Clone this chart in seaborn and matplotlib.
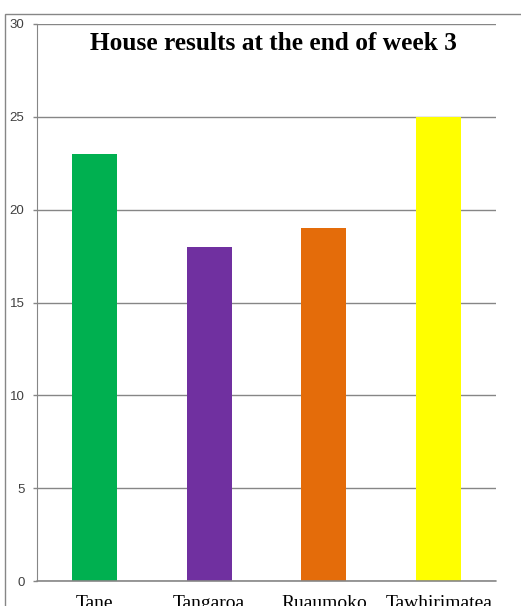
import matplotlib
matplotlib.use("Agg")
import matplotlib.pyplot as plt
import seaborn as sns
import pandas as pd
from matplotlib.patches import Rectangle

# chart data
houses = ["Tane", "Tangaroa", "Ruaumoko", "Tawhirimatea"]
points = [23, 18, 19, 25]
house_colors = ["#00B050", "#7030A0", "#E46C0A", "#FFFF00"]
y_ticks = [0, 5, 10, 15, 20, 25, 30]

df = pd.DataFrame({"house": houses, "points": points})

sns.set_style("white")
W, H = 521, 606
fig = plt.figure(figsize=(W / 100, H / 100), dpi=100)

# outer chart border (runs off the right and bottom edges)
fig.patches.append(Rectangle((4.5 / W, -0.1), 1.2, 1 - 13.5 / H + 0.1,
                             transform=fig.transFigure, fill=False,
                             edgecolor="#868686", linewidth=1))

ax = fig.add_axes([37 / W, 25 / H, (496 - 37) / W, (581 - 24) / H])
sns.barplot(data=df, x="house", y="points", hue="house", palette=house_colors,
            legend=False, width=0.39, saturation=1, linewidth=0, ax=ax)

ax.set_ylim(0, 30)
ax.set_yticks(y_ticks)
ax.set_xlim(-0.5, 3.5)
ax.yaxis.grid(True, color="#868686", linewidth=1)
ax.set_axisbelow(True)
for side in ["top", "right", "bottom"]:
    ax.spines[side].set_visible(False)
ax.spines["left"].set_color("#868686")
ax.axhline(0, color="#868686", linewidth=1.2, zorder=5, clip_on=False)
ax.tick_params(axis="y", length=3, width=1, color="#868686", labelsize=9.5,
               labelcolor="#404040", pad=6, left=True)
ax.tick_params(axis="x", length=0, pad=10, labelcolor="black")
for lab in ax.get_yticklabels():
    lab.set_fontfamily("Liberation Sans")
for lab in ax.get_xticklabels():
    lab.set_fontfamily("Liberation Serif")
    lab.set_fontsize(14)
ax.set_xlabel("")
ax.set_ylabel("")

fig.text(273 / W, 1 - 50 / H, "House results at the end of week 3",
         ha="center", va="baseline", fontsize=18.3, fontweight="bold",
         family="Liberation Serif", color="black")

fig.savefig("out.png", dpi=100)
